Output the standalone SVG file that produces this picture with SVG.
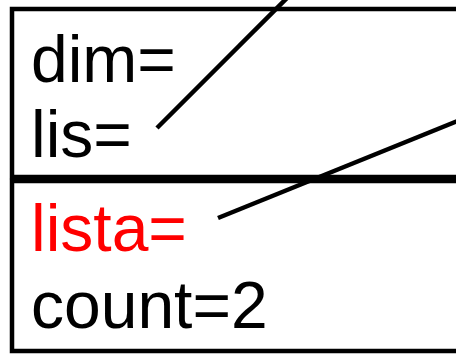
<svg xmlns="http://www.w3.org/2000/svg" width="456" height="356" viewBox="0 0 456 356">
<style>
.box{fill:#fff;stroke:#000;stroke-width:4.5}
.t{font-family:"Liberation Sans",Arial,sans-serif;font-size:66px;fill:#000}
.red{fill:#f00}
.c{stroke:#000;stroke-width:4.5;fill:none}
</style>
<rect width="456" height="356" fill="#fff"/>
<g id="node-top">
<rect class="box" x="12" y="9" width="470" height="168"/>
<text class="t" x="31" y="82">dim=</text>
<text class="t" x="31" y="157">lis=</text>
</g>
<g id="node-bottom">
<rect class="box" x="12" y="181" width="470" height="170"/>
<text class="t red" x="31" y="251">lista=</text>
<text class="t" x="31" y="328">count=2</text>
</g>
<g id="connectors">
<line class="c" x1="157" y1="128" x2="293" y2="-8"/>
<line class="c" x1="218" y1="218" x2="460" y2="120"/>
</g>
</svg>
